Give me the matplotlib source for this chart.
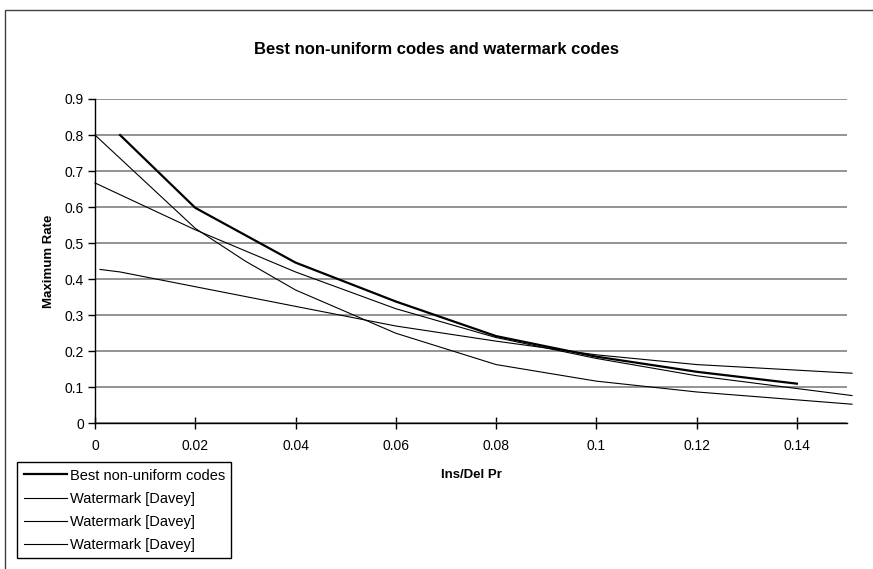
import matplotlib.pyplot as plt
from matplotlib.patches import Rectangle

plt.rcParams['font.family'] = ['Liberation Sans', 'DejaVu Sans']

# data
best_x = [0.005, 0.02, 0.04, 0.06, 0.08, 0.1, 0.12, 0.14]
best_y = [0.80, 0.598, 0.446, 0.338, 0.242, 0.185, 0.143, 0.11]

wm1_x = [0.0, 0.02, 0.03, 0.04, 0.06, 0.08, 0.1, 0.12, 0.151]
wm1_y = [0.80, 0.541, 0.45, 0.37, 0.25, 0.163, 0.117, 0.087, 0.053]

wm2_x = [0.0, 0.02, 0.04, 0.06, 0.08, 0.1, 0.12, 0.151]
wm2_y = [0.667, 0.537, 0.42, 0.318, 0.238, 0.18, 0.132, 0.077]

wm3_x = [0.001, 0.005, 0.06, 0.08, 0.1, 0.12, 0.151]
wm3_y = [0.427, 0.42, 0.27, 0.228, 0.19, 0.163, 0.139]

xticks = [0, 0.02, 0.04, 0.06, 0.08, 0.1, 0.12, 0.14]
xlabels = ['0', '0.02', '0.04', '0.06', '0.08', '0.1', '0.12', '0.14']
yticks = [0, 0.1, 0.2, 0.3, 0.4, 0.5, 0.6, 0.7, 0.8, 0.9]
ylabels = ['0', '0.1', '0.2', '0.3', '0.4', '0.5', '0.6', '0.7', '0.8', '0.9']

fig = plt.figure(figsize=(8.73, 5.69), dpi=100)
fig.patches.append(Rectangle((5 / 873, -0.1), 1.2, 1 - 10 / 569 + 0.1,
                             transform=fig.transFigure, fill=False,
                             edgecolor='#404040', linewidth=1))

ax = fig.add_axes([95 / 873, 1 - 423.3 / 569, (847 - 95) / 873, (423.3 - 99) / 569])

ax.plot(best_x, best_y, color='black', lw=1.6, label='Best non-uniform codes')
ax.plot(wm1_x, wm1_y, color='black', lw=0.8, clip_on=False, label='Watermark [Davey]')
ax.plot(wm2_x, wm2_y, color='black', lw=0.8, clip_on=False, label='Watermark [Davey]')
ax.plot(wm3_x, wm3_y, color='black', lw=0.8, clip_on=False, label='Watermark [Davey]')

ax.set_xlim(0, 0.15)
ax.set_ylim(0, 0.9)
ax.set_xticks(xticks)
ax.set_xticklabels(xlabels, fontsize=10)
ax.set_yticks(yticks)
ax.set_yticklabels(ylabels, fontsize=10)
ax.tick_params(axis='x', direction='inout', length=8, width=1, pad=7)
ax.tick_params(axis='y', direction='out', length=5, width=1, pad=3)
ax.grid(axis='y', color='#808080', linewidth=1.2)
ax.set_axisbelow(True)
for s in ['top', 'right']:
    ax.spines[s].set_visible(False)
ax.spines['left'].set_linewidth(1)
ax.spines['bottom'].set_linewidth(1)

ax.set_xlabel('Ins/Del Pr', fontsize=9.5, fontweight='bold', labelpad=12)
ax.set_ylabel('Maximum Rate', fontsize=9.5, fontweight='bold', labelpad=7)
fig.text(0.5, 1 - 49 / 569, 'Best non-uniform codes and watermark codes',
         ha='center', va='center', fontsize=12, fontweight='bold')

fig.legend(loc='upper left', bbox_to_anchor=(17 / 873, 1 - 462 / 569),
           fontsize=10.5, frameon=True, fancybox=False, edgecolor='black',
           framealpha=1, handlelength=3.0, handletextpad=0.15,
           labelspacing=0.62, borderpad=0.45, borderaxespad=0)

fig.savefig('out.png', dpi=100)
